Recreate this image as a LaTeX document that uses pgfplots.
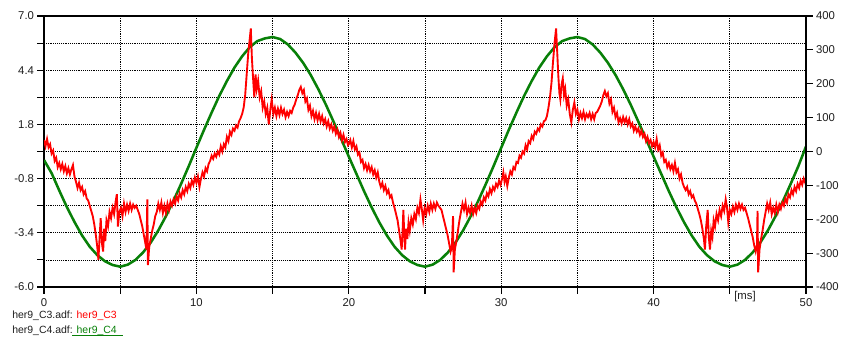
\documentclass[border=0pt]{standalone}
\usepackage{pgfplots}
\pgfplotsset{compat=1.18}
\usepackage{fontspec}
\setmainfont{Liberation Sans}
\definecolor{cred}{RGB}{255,0,0}
\definecolor{cgreen}{RGB}{8,128,8}
\definecolor{txt}{RGB}{30,30,30}
\begin{document}
\begin{tikzpicture}
\begin{axis}[
  at={(0,0)}, anchor=south west,
  scale only axis, width=571.5pt, height=203.25pt,
  xmin=0, xmax=50, ymin=-6, ymax=7,
  xtick={0,10,20,30,40,50}, xticklabels={0,10,20,30,40,50},
  minor xtick={5,15,25,35,45},
  extra x ticks={46}, extra x tick labels={[ms]},
  extra x tick style={major tick length=0pt, grid=none},
  ytick={-6,-3.4,-0.8,1.8,4.4,7},
  yticklabels={-6.0,-3.4,-0.8,1.8,4.4,7.0},
  minor ytick={-4.7,-2.1,0.5,3.1,5.7},
  xtick pos=bottom, ytick pos=left,
  grid=both,
  major grid style={black, densely dotted, line width=0.6pt},
  minor grid style={black, densely dotted, line width=0.6pt},
  tick align=outside, major tick length=5pt, minor tick length=5pt,
  every tick/.style={black, line width=0.8pt},
  axis line style={black, line width=1.1pt},
  tick label style={font=\fontsize{8.5}{10}\selectfont, text=txt},
  yticklabel style={xshift=1pt},
]
\addplot[cgreen, line width=1.9pt, y filter/.expression={y*0.01625+0.5}] coordinates {
(0,-25)(0.5,-64)(1,-115)(1.5,-164)(2,-208)(2.5,-248)(3,-281)(3.5,-306)(4,-324)(4.5,-335)(5,-340)(5.5,-334)(6,-320)(6.5,-298)(7,-269)(7.5,-233)(8,-191)(8.5,-145)(9,-95)(9.5,-43)(10,11)(10.5,64)(11,115)(11.5,164)(12,208)(12.5,248)(13,281)(13.5,308)(14,326)(14.5,334)(15,338)(15.5,332)(16,316)(16.5,292)(17,262)(17.5,226)(18,184)(18.5,138)(19,88)(19.5,37)(20,-15)(20.5,-66)(21,-117)(21.5,-165)(22,-209)(22.5,-248)(23,-281)(23.5,-306)(24,-324)(24.5,-335)(25,-340)(25.5,-334)(26,-320)(26.5,-298)(27,-269)(27.5,-233)(28,-191)(28.5,-145)(29,-95)(29.5,-43)(30,11)(30.5,64)(31,115)(31.5,164)(32,208)(32.5,248)(33,281)(33.5,308)(34,326)(34.5,334)(35,338)(35.5,332)(36,316)(36.5,292)(37,262)(37.5,226)(38,184)(38.5,138)(39,88)(39.5,37)(40,-15)(40.5,-66)(41,-117)(41.5,-165)(42,-209)(42.5,-248)(43,-281)(43.5,-306)(44,-324)(44.5,-335)(45,-340)(45.5,-334)(46,-320)(46.5,-298)(47,-269)(47.5,-233)(48,-191)(48.5,-145)(49,-95)(49.5,-43)(50,15)
};
\addplot[cred, line width=1.4pt] coordinates {
(0.0,1.05)(0.1,0.75)(0.2,1.1)(0.3,0.7)(0.4,0.85)(0.5,0.4)(0.6,0.55)(0.7,0.05)(0.8,0.2)(0.9,-0.25)
(1.0,-0.05)(1.1,-0.35)(1.2,-0.1)(1.3,-0.45)(1.4,-0.2)(1.5,-0.55)(1.6,-0.3)(1.7,-0.6)(1.8,-0.35)(1.9,-0.15)
(2.0,-0.7)(2.1,-0.95)(2.2,-1.25)(2.3,-1.0)(2.4,-1.35)(2.5,-1.2)(2.6,-1.55)(2.7,-1.4)(2.8,-1.75)(2.9,-1.85)
(3.0,-2.1)(3.1,-2.35)(3.2,-2.6)(3.3,-3.0)(3.4,-3.5)(3.5,-4.1)(3.57,-4.7)(3.65,-3.6)(3.72,-2.7)(3.8,-3.9)
(3.88,-4.3)(3.95,-3.2)(4.02,-3.8)(4.1,-2.8)(4.2,-3.1)(4.3,-2.4)(4.4,-2.7)(4.5,-2.2)(4.6,-2.5)(4.7,-1.9)
(4.78,-1.55)(4.85,-3.1)(4.95,-2.4)(5.05,-2.2)(5.15,-2.6)(5.25,-2.0)(5.35,-2.4)(5.45,-2.05)(5.55,-2.35)(5.65,-2.0)
(5.75,-2.3)(5.85,-2.05)(5.95,-2.2)(6.05,-2.1)(6.15,-2.3)(6.25,-2.5)(6.35,-2.8)(6.45,-3.1)(6.55,-3.5)(6.65,-3.9)
(6.72,-4.2)(6.78,-1.8)(6.82,-4.95)(6.9,-4.1)(7.0,-3.7)(7.1,-3.3)(7.2,-3.0)(7.3,-2.6)(7.4,-2.4)(7.5,-2.0)
(7.6,-2.3)(7.7,-1.95)(7.8,-2.45)(7.9,-2.1)(8.0,-2.45)(8.1,-2.0)(8.2,-2.3)(8.3,-1.9)(8.4,-2.1)(8.5,-1.8)
(8.6,-2.0)(8.7,-1.65)(8.8,-1.85)(8.9,-1.5)(9.0,-1.7)(9.1,-1.35)(9.2,-1.55)(9.3,-1.2)(9.4,-1.4)(9.5,-1.05)
(9.6,-1.25)(9.7,-0.9)(9.8,-1.1)(9.9,-0.75)(10.0,-1.0)(10.1,-0.7)(10.2,-1.2)(10.3,-0.8)(10.4,-0.5)(10.5,-0.7)
(10.6,-0.3)(10.7,-0.45)(10.8,-0.1)(10.9,0.05)(11.0,0.3)(11.1,0.15)(11.2,0.4)(11.3,0.25)(11.4,0.5)(11.5,0.35)
(11.6,0.75)(11.7,0.5)(11.8,0.85)(11.9,0.7)(12.0,1.2)(12.1,1.0)(12.2,1.45)(12.3,1.3)(12.4,1.6)(12.5,1.5)
(12.6,1.75)(12.7,1.65)(12.8,1.95)(12.9,2.1)(13.0,2.3)(13.1,2.6)(13.2,3.2)(13.3,4.2)(13.4,5.2)(13.5,5.9)
(13.57,6.4)(13.64,5.0)(13.72,4.0)(13.8,3.1)(13.88,4.2)(13.96,3.5)(14.05,3.9)(14.15,3.1)(14.25,3.4)(14.35,2.6)
(14.45,2.9)(14.55,2.3)(14.65,2.6)(14.75,1.8)(14.85,2.5)(14.94,3.0)(15.05,2.3)(15.15,2.6)(15.25,2.2)(15.35,2.55)
(15.45,2.25)(15.55,2.6)(15.65,2.3)(15.75,2.5)(15.85,2.15)(15.95,2.4)(16.05,2.2)(16.15,2.45)(16.25,2.35)(16.35,2.6)
(16.45,2.75)(16.55,3.0)(16.65,3.2)(16.75,3.45)(16.85,3.6)(16.95,3.3)(17.05,3.45)(17.15,2.9)(17.25,3.05)(17.35,2.5)
(17.45,2.7)(17.55,2.2)(17.65,2.45)(17.75,2.05)(17.85,2.35)(17.95,2.0)(18.05,2.3)(18.15,1.95)(18.25,2.2)(18.35,1.85)
(18.45,2.05)(18.55,1.7)(18.65,1.95)(18.75,1.6)(18.85,1.8)(18.95,1.5)(19.05,1.7)(19.15,1.35)(19.25,1.55)(19.35,1.2)
(19.45,1.4)(19.55,1.05)(19.65,1.3)(19.75,0.95)(19.85,1.1)(19.95,0.8)
(20.0,0.85)(20.1,1.05)(20.2,0.7)(20.3,1.0)(20.4,0.6)(20.5,0.75)(20.6,0.35)(20.7,0.45)(20.8,0.0)(20.9,0.1)
(21.0,-0.3)(21.1,-0.1)(21.2,-0.4)(21.3,-0.15)(21.4,-0.45)(21.5,-0.25)(21.6,-0.6)(21.7,-0.4)(21.8,-0.75)(21.9,-0.5)
(22.0,-0.95)(22.1,-1.2)(22.2,-1.0)(22.3,-1.35)(22.4,-1.15)(22.5,-1.5)(22.6,-1.35)(22.7,-1.7)(22.8,-1.6)(22.9,-1.95)
(23.0,-2.2)(23.1,-2.5)(23.2,-2.8)(23.3,-3.3)(23.4,-3.8)(23.47,-4.2)(23.53,-3.3)(23.58,-2.3)(23.64,-3.5)(23.69,-4.2)
(23.76,-3.2)(23.84,-3.7)(23.92,-2.9)(24.0,-3.3)(24.1,-2.7)(24.2,-3.0)(24.3,-2.5)(24.4,-2.75)(24.5,-2.2)(24.6,-2.45)
(24.7,-1.8)(24.78,-2.2)(24.88,-2.8)(24.98,-2.2)(25.08,-2.5)(25.18,-2.1)(25.28,-2.4)(25.38,-2.0)(25.48,-2.3)(25.58,-2.0)
(25.68,-2.25)(25.78,-1.95)(25.88,-2.1)(25.98,-2.2)(26.08,-2.3)(26.18,-2.6)(26.28,-2.9)(26.38,-3.2)(26.48,-3.5)(26.58,-3.9)
(26.68,-4.3)(26.76,-4.1)(26.84,-2.6)(26.88,-5.3)(26.96,-4.2)(27.06,-3.8)(27.16,-3.3)(27.26,-2.8)(27.36,-2.4)(27.46,-2.0)
(27.56,-2.3)(27.66,-1.95)(27.76,-2.5)(27.86,-2.2)(27.96,-2.45)(28.06,-2.1)(28.16,-2.5)(28.26,-2.2)(28.36,-2.45)(28.46,-2.1)
(28.56,-2.25)(28.66,-1.9)(28.76,-2.05)(28.86,-1.7)(28.96,-1.85)(29.06,-1.5)(29.16,-1.65)(29.26,-1.3)(29.36,-1.5)(29.46,-1.2)
(29.56,-1.35)(29.66,-1.05)(29.76,-1.2)(29.86,-0.9)(29.96,-1.1)(30.06,-0.8)(30.14,-0.5)(30.22,-0.95)(30.3,-0.7)(30.4,-1.15)
(30.5,-0.75)(30.6,-0.45)(30.7,-0.6)(30.8,-0.25)(30.9,-0.35)(31.0,0.0)(31.1,-0.05)(31.2,0.3)(31.3,0.2)(31.4,0.5)
(31.5,0.4)(31.6,0.8)(31.7,0.6)(31.8,1.0)(31.9,0.9)(32.0,1.25)(32.1,1.1)(32.2,1.45)(32.3,1.35)(32.4,1.6)
(32.5,1.5)(32.6,1.8)(32.7,1.7)(32.8,1.95)(32.9,2.0)(33.0,2.2)(33.1,2.6)(33.2,3.1)(33.3,3.8)(33.4,4.8)
(33.5,5.7)(33.6,6.4)(33.68,5.2)(33.75,4.1)(33.82,3.3)(33.88,3.0)(33.96,3.7)(34.04,4.0)(34.12,3.2)(34.2,3.5)
(34.3,2.7)(34.4,3.0)(34.5,2.3)(34.6,1.9)(34.7,2.5)(34.8,2.85)(34.9,2.3)(35.0,2.5)(35.1,2.05)(35.2,2.35)
(35.3,2.1)(35.4,2.4)(35.5,2.05)(35.6,2.3)(35.7,2.15)(35.8,2.35)(35.9,2.05)(36.0,2.3)(36.1,2.05)(36.2,2.35)
(36.3,2.4)(36.4,2.55)(36.5,2.7)(36.6,2.9)(36.7,3.2)(36.8,3.4)(36.9,3.15)(37.0,3.3)(37.1,2.8)(37.2,3.0)
(37.3,2.4)(37.4,2.6)(37.5,2.15)(37.6,2.35)(37.7,1.9)(37.8,2.1)(37.9,1.85)(38.0,2.15)(38.1,1.9)(38.2,2.1)
(38.3,1.8)(38.4,2.05)(38.5,1.7)(38.6,1.85)(38.7,1.5)(38.8,1.7)(38.9,1.45)(39.0,1.6)(39.1,1.3)(39.2,1.5)
(39.3,1.2)(39.4,1.35)(39.5,1.0)(39.6,1.2)(39.7,0.9)(39.8,1.05)(39.9,0.75)(40.0,0.95)
(40.1,0.7)(40.2,1.1)(40.3,0.6)(40.4,0.8)(40.5,0.3)(40.6,0.45)(40.7,0.0)(40.8,0.1)(40.9,-0.25)(41.0,-0.05)
(41.1,-0.35)(41.2,-0.15)(41.3,-0.45)(41.4,-0.05)(41.5,-0.5)(41.6,-0.35)(41.7,-0.8)(41.8,-0.6)(41.9,-1.0)(42.0,-1.2)
(42.1,-1.35)(42.2,-1.2)(42.3,-1.55)(42.4,-1.4)(42.5,-1.7)(42.6,-1.6)(42.7,-1.85)(42.8,-2.0)(42.9,-2.25)(43.0,-2.5)
(43.1,-2.8)(43.2,-3.2)(43.3,-3.7)(43.37,-4.2)(43.45,-3.1)(43.55,-2.3)(43.62,-3.6)(43.7,-4.2)(43.78,-3.3)(43.86,-3.6)
(43.94,-2.8)(44.03,-3.1)(44.13,-2.5)(44.23,-2.8)(44.33,-2.3)(44.43,-2.6)(44.53,-2.1)(44.63,-2.35)(44.73,-1.8)(44.82,-2.2)
(44.9,-2.9)(45.0,-2.3)(45.1,-2.5)(45.2,-2.15)(45.3,-2.4)(45.4,-2.05)(45.5,-2.3)(45.6,-2.0)(45.7,-2.25)(45.8,-2.05)
(45.9,-2.3)(46.0,-2.2)(46.1,-2.45)(46.2,-2.7)(46.3,-3.0)(46.4,-3.3)(46.5,-3.6)(46.6,-4.0)(46.7,-4.3)(46.78,-4.0)
(46.82,-2.35)(46.86,-5.3)(46.95,-4.2)(47.05,-3.7)(47.15,-3.3)(47.25,-2.8)(47.35,-2.4)(47.45,-2.0)(47.55,-2.3)(47.65,-1.95)
(47.75,-2.5)(47.85,-2.2)(47.95,-2.45)(48.05,-2.05)(48.15,-2.4)(48.25,-2.05)(48.35,-2.25)(48.45,-1.95)(48.55,-2.1)(48.65,-1.75)
(48.75,-1.95)(48.85,-1.55)(48.95,-1.7)(49.05,-1.35)(49.15,-1.55)(49.25,-1.2)(49.35,-1.4)(49.45,-1.05)(49.55,-1.25)(49.65,-0.9)
(49.75,-1.1)(49.85,-0.8)(49.95,-1.0)(50.0,-0.85)
};
\end{axis}
\begin{axis}[
  at={(0,0)}, anchor=south west,
  scale only axis, width=571.5pt, height=203.25pt,
  xmin=0, xmax=50, ymin=-400, ymax=400,
  hide x axis,
  axis y line*=right,
  ytick={-400,-300,-200,-100,0,100,200,300,400},
  yticklabels={-400,-300,-200,-100,0,100,200,300,400},
  tick align=outside, major tick length=5pt,
  every tick/.style={black, line width=0.8pt},
  axis line style={black, line width=1.1pt},
  tick label style={font=\fontsize{8.5}{10}\selectfont, text=txt},
  yticklabel style={xshift=-1pt},
]
\end{axis}
\node[anchor=base west, font=\fontsize{7.85}{10}\selectfont, text=txt, inner sep=0pt] at (-24pt,-23.25pt) {her9\_C3.adf: \textcolor{cred}{her9\_C3}};
\node[anchor=base west, font=\fontsize{7.85}{10}\selectfont, text=txt, inner sep=0pt] at (-24pt,-34.5pt) {her9\_C4.adf: \textcolor{cgreen}{her9\_C4}};
\draw[cgreen, line width=0.6pt] (21pt,-36pt) -- (59.25pt,-36pt);
\pgfresetboundingbox
\useasboundingbox (-33pt,-37.5pt) rectangle (597.75pt,215.25pt);
\end{tikzpicture}
\end{document}
